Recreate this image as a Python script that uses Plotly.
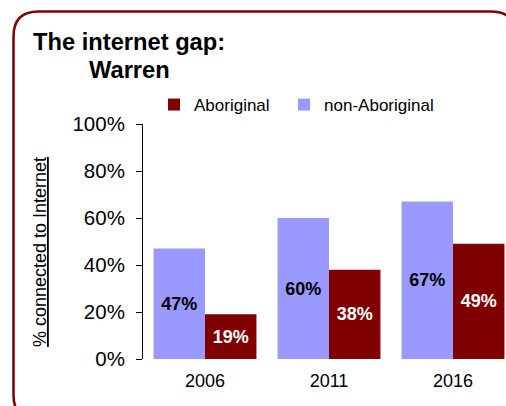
import plotly.graph_objects as go

years = ["2006", "2011", "2016"]
non_aboriginal = [47, 60, 67]
aboriginal = [19, 38, 49]
y_ticks = [0, 20, 40, 60, 80, 100]
y_tick_labels = ["0%", "20%", "40%", "60%", "80%", "100%"]

W, H = 506, 406
L, R, T, B = 143, 0, 124, 47
PW, PH = W - L - R, H - T - B
FONT = "Liberation Sans, Arial, sans-serif"
LAV = "#9999FF"
DRED = "#800000"


def px(x):
    return (x - L) / PW


def py(y):
    return (H - B - y) / PH


fig = go.Figure()
fig.add_trace(go.Bar(
    x=years, y=non_aboriginal, name="non-Aboriginal",
    marker=dict(color=LAV, line=dict(width=0)),
    text=[f"{v}%" for v in non_aboriginal], texttemplate="%{text}",
    textposition="inside", insidetextanchor="middle",
    textangle=0, constraintext="none",
    textfont=dict(family=FONT, size=18, color="black", weight="bold"),
))
fig.add_trace(go.Bar(
    x=years, y=aboriginal, name="Aboriginal&nbsp;&nbsp;",
    marker=dict(color=DRED, line=dict(width=0)),
    text=[f"{v}%" for v in aboriginal], texttemplate="%{text}",
    textposition="inside", insidetextanchor="middle",
    textangle=0, constraintext="none",
    textfont=dict(family=FONT, size=18, color="white", weight="bold"),
))

# rounded border (pixel geometry converted to paper coords)
x0, y0, x1, y1, r = 13.5, 11.5, 516, 420, 25
path = (
    f"M {px(x0)},{py(y0 + r)} "
    f"Q {px(x0)},{py(y0)} {px(x0 + r)},{py(y0)} "
    f"L {px(x1 - r)},{py(y0)} "
    f"Q {px(x1)},{py(y0)} {px(x1)},{py(y0 + r)} "
    f"L {px(x1)},{py(y1 - r)} "
    f"Q {px(x1)},{py(y1)} {px(x1 - r)},{py(y1)} "
    f"L {px(x0 + r)},{py(y1)} "
    f"Q {px(x0)},{py(y1)} {px(x0)},{py(y1 - r)} Z"
)

fig.update_layout(
    width=W, height=H,
    margin=dict(l=L, r=R, t=T, b=B),
    paper_bgcolor="white", plot_bgcolor="white",
    font=dict(family=FONT, color="black"),
    barmode="group", bargap=0.17, bargroupgap=0,
    showlegend=True,
    legend=dict(
        orientation="h", traceorder="reversed",
        x=px(154), xanchor="left", y=py(105), yanchor="middle",
        font=dict(family=FONT, size=17, color="black"),
        bgcolor="rgba(0,0,0,0)",
    ),
    shapes=[dict(type="path", xref="paper", yref="paper", path=path,
                 line=dict(color=DRED, width=2.5), fillcolor="rgba(0,0,0,0)",
                 layer="below")],
    annotations=[
        dict(text="<b>The internet gap:</b>", xref="paper", yref="paper",
             x=px(31), y=py(42), xanchor="left", yanchor="middle",
             showarrow=False, font=dict(family=FONT, size=23.7, color="black")),
        dict(text="<b>Warren</b>", xref="paper", yref="paper",
             x=px(87), y=py(70), xanchor="left", yanchor="middle",
             showarrow=False, font=dict(family=FONT, size=23.7, color="black")),
        dict(text="<u>% connected to Internet</u>", xref="paper", yref="paper",
             x=px(40), y=py(252), xanchor="center", yanchor="middle",
             textangle=-90, showarrow=False,
             font=dict(family=FONT, size=18, color="black")),
    ],
)

fig.update_xaxes(
    type="category", range=[-0.5, -0.5 + PW / 124],
    showline=False, ticks="", showgrid=False, zeroline=False,
    tickfont=dict(family=FONT, size=18, color="black"),
    ticklabelstandoff=9,
)
fig.update_yaxes(
    range=[0, 100], tickvals=y_ticks, ticktext=y_tick_labels,
    showline=True, linecolor="black", linewidth=1,
    ticks="outside", ticklen=6, tickcolor="black", tickwidth=1,
    showgrid=False, zeroline=False,
    tickfont=dict(family=FONT, size=20.5, color="black"),
    ticklabelstandoff=7,
)

fig.write_html(
    "out.html",
    config={"displayModeBar": False},
    post_script="document.body.style.margin='0';document.body.style.overflow='hidden';",
)
